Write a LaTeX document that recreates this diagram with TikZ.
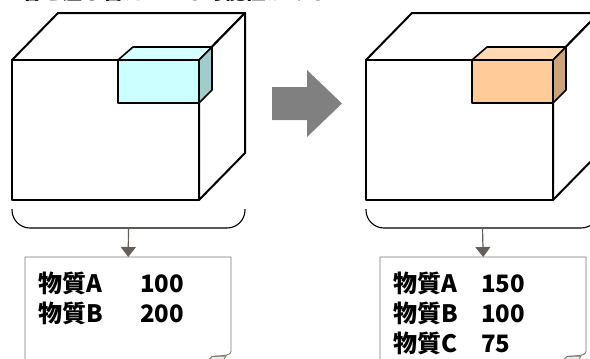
\documentclass[tikz,border=0pt]{standalone}
\usepackage{fontspec}
\newfontfamily\jp{Noto Sans CJK JP}
\usetikzlibrary{arrows.meta}
\definecolor{cyanfront}{RGB}{204,255,255}
\definecolor{cyantop}{RGB}{214,255,255}
\definecolor{cyanside}{RGB}{160,204,204}
\definecolor{orfront}{RGB}{255,204,153}
\definecolor{ortop}{RGB}{255,217,179}
\definecolor{orside}{RGB}{204,163,122}
\definecolor{bigarrow}{RGB}{128,128,128}
\definecolor{flowcol}{RGB}{100,95,90}
\definecolor{papercol}{RGB}{125,120,115}
\tikzset{
  cube/.style={draw=black, line width=2pt, fill=white, line join=round},
  boxface/.style={draw=black, line width=1.6pt, line join=round},
  brace/.style={draw=black, line width=1.1pt},
  flow/.style={draw=flowcol, line width=1.2pt, -{Triangle[width=15pt,length=10pt]}},
  paperline/.style={draw=papercol, line width=0.9pt},
  entry/.style={anchor=base west, inner sep=0pt, font=\jp\bfseries\fontsize{24}{30}\selectfont},
}
\begin{document}
\begin{tikzpicture}[x=1pt, y=-1pt]
\useasboundingbox (0,0) rectangle (590,359);
\begin{scope}
\clip (0,0) rectangle (590,359);

% heading line, mostly above the visible area
\node[anchor=base west, inner sep=0pt, font=\jp\bfseries\fontsize{20.5}{20}\selectfont] (heading) at (21,-0.5) {者を差し替えている可能性がある};

% left container with cyan block
\draw[cube] (12,60) -- (58,13) -- (245,13) -- (199,60) -- cycle;
\draw[cube] (199,60) -- (245,13) -- (245,153) -- (199,200) -- cycle;
\draw[cube] (12,60) rectangle (199,200);
\draw[boxface, fill=cyantop] (118,60) -- (133,47) -- (212,47) -- (199,60) -- cycle;
\draw[boxface, fill=cyanside] (199,60) -- (212,47) -- (212,90) -- (199,103) -- cycle;
\draw[boxface, fill=cyanfront] (118,60) rectangle (199,103);

% right container with orange block
\begin{scope}[xshift=354pt]
\draw[cube] (12,60) -- (58,13) -- (245,13) -- (199,60) -- cycle;
\draw[cube] (199,60) -- (245,13) -- (245,153) -- (199,200) -- cycle;
\draw[cube] (12,60) rectangle (199,200);
\draw[boxface, fill=ortop] (118,60) -- (133,47) -- (212,47) -- (199,60) -- cycle;
\draw[boxface, fill=orside] (199,60) -- (212,47) -- (212,90) -- (199,103) -- cycle;
\draw[boxface, fill=orfront] (118,60) rectangle (199,103);
\end{scope}

% big transition arrow
\fill[bigarrow] (272,87) -- (307,87) -- (307,70) -- (342,103.5) -- (307,137) -- (307,120) -- (272,120) -- cycle;

% braces under the containers
\draw[brace, rounded corners=18pt] (12,209) -- (12,228) -- (245,228) -- (245,209);
\draw[brace, rounded corners=18pt] (366,209) -- (366,228) -- (599,228) -- (599,209);
\coordinate (b1) at (128.5,228);
\coordinate (b2) at (482.5,228);

% content sheets
\node[anchor=north west, minimum width=206pt, minimum height=104pt, inner sep=0pt] (p1) at (25,257) {};
\node[anchor=north west, minimum width=206pt, minimum height=104pt, inner sep=0pt] (p2) at (380,257) {};
\fill[white] (25,257) rectangle (231,361);
\draw[paperline] (25,362) -- (25,257) -- (231,257) -- (231,351)
  .. controls (231,354) and (228,355) .. (224,355.5) -- (212,356.5) -- (208,361);
\draw[paperline, fill=black!8] (212,356.5) -- (226,356) -- (223,361) -- (208,361) -- cycle;
\fill[white] (380,257) rectangle (586,361);
\draw[paperline] (380,362) -- (380,257) -- (586,257) -- (586,351)
  .. controls (586,354) and (583,355) .. (579,355.5) -- (567,356.5) -- (563,361);
\draw[paperline, fill=black!8] (567,356.5) -- (581,356) -- (578,361) -- (563,361) -- cycle;

\draw[flow] (b1) -- (p1.north);
\draw[flow] (b2) -- (p2.north);

% sheet entries
\node[entry] (l1) at (38,292) {\makebox[102pt][l]{物質A}100};
\node[entry] (l2) at (38,322) {\makebox[102pt][l]{物質B}200};
\node[entry] (r1) at (393,292) {\makebox[88pt][l]{物質A}150};
\node[entry] (r2) at (393,322) {\makebox[88pt][l]{物質B}100};
\node[entry] (r3) at (393,352) {\makebox[88pt][l]{物質C}75};
\end{scope}
\end{tikzpicture}
\end{document}
